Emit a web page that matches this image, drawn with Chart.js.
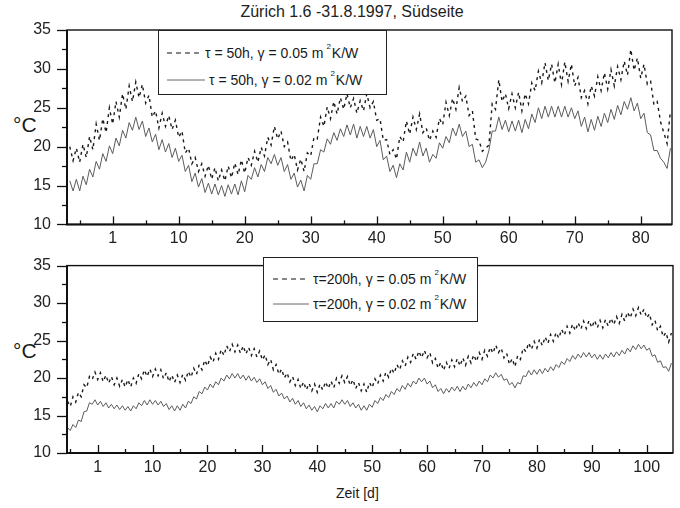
<!DOCTYPE html>
<html>
<head>
<meta charset="utf-8">
<script src="https://cdn.jsdelivr.net/npm/chart.js@4.4.1/dist/chart.umd.min.js"></script>
<style>
body{margin:0;background:#fff;width:680px;height:508px;position:relative;overflow:hidden;font-family:"Liberation Sans",Arial,sans-serif;color:#1a1a1a}
canvas{position:absolute;left:0}
.txt{position:absolute;white-space:nowrap}
.leg{position:absolute;border:1.3px solid #222;background:#fff;box-sizing:border-box;font-size:14px}
.row{position:absolute;display:flex;align-items:center;height:18px;white-space:nowrap}
.row svg{margin-right:4px}
.row sup{font-size:8px;vertical-align:0;position:relative;top:-9px;margin:0 1px 0 3px}
.degc{font-size:21px}
</style>
</head>
<body>
<div class="txt" style="left:0;width:704px;text-align:center;top:3px;font-size:16px;color:#222">Zürich 1.6 -31.8.1997, Südseite</div>
<div class="txt degc" style="left:13px;top:113px">°C</div>
<div class="txt degc" style="left:13px;top:339px">°C</div>
<div class="txt" style="left:336px;top:485px;font-size:14px">Zeit [d]</div>

<canvas id="topChart" width="680" height="250" style="top:0"></canvas>
<canvas id="botChart" width="680" height="268" style="top:240px"></canvas>

<div class="leg" style="left:158px;top:30px;width:229px;height:65px">
  <div class="row" style="left:8px;top:13px"><svg width="34" height="4"><line x1="0" y1="2" x2="34" y2="2" stroke="#111" stroke-width="1" stroke-dasharray="5,4"/></svg><span>τ = 50h, γ = 0.05 m<sup>2</sup>K/W</span></div>
  <div class="row" style="left:8px;top:40px"><svg width="38" height="4"><line x1="0" y1="2" x2="38" y2="2" stroke="#666" stroke-width="1"/></svg><span>τ = 50h, γ = 0.02 m<sup>2</sup>K/W</span></div>
</div>
<div class="leg" style="left:263px;top:257px;width:215px;height:65px">
  <div class="row" style="left:9px;top:12px"><svg width="36" height="4"><line x1="0" y1="2" x2="36" y2="2" stroke="#111" stroke-width="1" stroke-dasharray="5,4"/></svg><span>τ=200h, γ = 0.05 m<sup>2</sup>K/W</span></div>
  <div class="row" style="left:9px;top:37px"><svg width="36" height="4"><line x1="0" y1="2" x2="36" y2="2" stroke="#666" stroke-width="1"/></svg><span>τ=200h, γ = 0.02 m<sup>2</sup>K/W</span></div>
</div>

<script>
/* ===== DATEN: halbtägige Werte (Spitze/Tal) ===== */
const STEP=0.5;
const topStart=-6.5;   // obere Grafik, Tag
const botStart=-5.5;   // untere Grafik, Tag

// tau = 50h, gamma = 0.05 m2K/W
const top50g05=[
  20.0,18.2,19.8,18.0,20.3,18.6,21.3,19.6,22.9,20.8,23.6,21.8,25.0,22.9,25.8,23.8,26.8,24.8,27.8,25.8,
  28.3,26.3,28.0,25.6,26.6,23.8,24.6,22.4,24.3,22.6,24.0,22.2,23.4,21.2,22.0,19.2,19.8,17.8,18.6,16.8,
  17.8,16.2,17.6,15.8,17.3,15.6,17.0,15.6,17.5,16.0,17.9,16.4,18.3,16.6,18.6,17.6,19.4,18.0,19.9,18.8,
  21.2,20.2,22.6,21.0,22.0,20.0,20.6,18.2,19.0,17.0,18.4,16.8,19.2,18.8,21.2,21.0,23.8,22.6,25.1,23.6,
  25.8,24.2,26.3,24.8,26.8,25.0,26.2,24.3,25.9,24.6,26.8,25.0,25.8,23.4,23.6,20.8,20.9,19.0,19.6,18.4,
  21.3,20.6,23.3,21.6,23.8,22.2,24.2,21.8,22.4,20.8,22.0,21.2,23.6,22.8,25.7,24.0,26.2,24.8,27.6,25.8,
  26.5,24.0,24.6,21.0,20.8,19.4,19.8,20.2,25.5,24.8,28.6,25.8,26.8,24.9,26.8,25.0,27.0,24.6,26.8,25.5,
  28.2,27.2,29.7,28.2,30.8,28.5,30.6,28.2,30.6,28.0,30.9,28.4,30.6,27.8,28.9,26.3,27.2,25.5,27.8,26.5,
  29.0,27.2,29.5,27.4,29.9,27.8,30.3,28.6,31.0,29.2,32.5,29.8,31.4,28.8,30.6,28.0,28.4,25.4,25.8,23.2,
  21.8,20.4,24.6
];
// tau = 50h, gamma = 0.02 m2K/W
const top50g02=[
  15.6,14.3,15.8,14.3,16.2,15.1,17.1,16.1,18.1,17.1,19.1,18.1,20.1,19.1,21.1,20.1,22.1,21.1,23.1,22.1,
  23.8,22.2,23.3,21.3,22.4,20.6,21.6,19.6,20.9,19.3,20.4,18.6,19.8,18.1,18.9,16.8,17.6,15.5,16.6,14.8,
  15.9,14.1,15.3,13.9,15.2,13.8,15.0,13.6,15.1,13.9,15.2,13.8,15.6,14.2,16.3,15.8,17.3,16.1,17.7,16.8,
  18.6,17.8,19.0,17.6,18.6,16.8,17.7,15.8,16.6,14.8,15.7,14.3,16.3,15.8,17.8,17.8,19.6,19.3,21.0,20.3,
  21.8,20.8,22.3,21.3,22.8,21.5,22.9,21.1,22.6,21.3,22.6,21.1,22.2,20.0,20.8,18.3,18.8,16.8,17.6,16.0,
  17.8,17.0,19.3,18.0,19.8,18.8,20.6,18.8,19.8,18.0,19.0,18.5,20.5,19.8,21.3,20.5,22.4,21.4,22.9,21.3,
  22.0,20.0,20.3,18.0,18.3,17.3,18.0,19.5,22.0,22.0,23.8,22.2,23.4,21.9,23.3,22.0,23.4,21.8,23.5,22.3,
  24.2,23.1,25.0,23.6,25.2,23.8,25.2,23.8,25.2,23.8,25.2,23.8,25.0,23.6,24.6,22.6,23.8,21.9,23.5,22.1,
  23.9,22.6,24.3,23.1,24.8,23.5,25.3,24.1,25.8,24.8,26.3,24.6,25.6,23.6,24.3,21.8,21.5,19.5,19.5,18.5,
  18.0,17.2,19.8
];
// tau = 200h, gamma = 0.05 m2K/W
const bot200g05=[
  16.9,16.2,17.5,16.8,18.1,17.5,19.1,18.7,20.2,19.8,20.8,19.8,20.7,19.5,20.4,19.3,20.2,19.1,20.0,18.9,
  19.8,18.8,19.8,18.8,20.0,19.3,20.6,19.9,21.1,20.2,21.2,20.2,21.2,20.3,21.1,19.9,20.7,19.5,20.4,19.4,
  20.4,19.4,20.5,19.7,20.9,20.1,21.3,20.5,21.8,21.1,22.4,21.6,22.8,22.1,23.3,22.5,23.8,23.0,24.3,23.5,
  24.5,23.5,24.4,23.3,24.3,23.2,24.1,23.0,23.9,22.8,23.6,22.4,23.1,21.8,22.5,21.1,21.8,20.5,21.2,20.0,
  20.7,19.5,20.2,19.0,19.8,18.6,19.5,18.4,19.3,18.3,19.2,18.1,19.2,18.4,19.5,18.6,19.6,18.7,20.0,19.3,
  20.3,19.4,20.2,19.0,19.8,18.6,19.4,18.3,19.2,18.1,19.4,18.7,19.9,19.2,20.4,19.6,20.8,20.1,21.3,20.6,
  21.8,21.1,22.3,21.6,22.8,22.1,23.3,22.5,23.6,22.7,23.7,22.7,23.4,22.0,22.6,21.3,22.1,21.0,22.1,21.3,
  22.4,21.5,22.6,21.6,22.7,21.7,22.9,22.0,23.1,22.2,23.4,22.5,23.7,22.9,24.1,23.3,24.4,23.4,24.0,22.7,
  23.3,21.8,22.6,21.5,23.0,22.5,24.0,23.5,24.7,23.8,24.9,24.0,25.2,24.3,25.5,24.6,25.8,24.9,26.1,25.3,
  26.5,25.7,26.9,26.0,27.2,26.3,27.4,26.5,27.6,26.6,27.7,26.7,27.7,26.7,27.7,26.7,27.8,26.9,28.0,27.1,
  28.2,27.3,28.5,27.6,28.8,28.0,29.2,28.3,29.4,28.4,29.2,28.0,28.6,27.1,27.7,26.3,26.9,25.5,26.1,24.8,
  26.0
];
// tau = 200h, gamma = 0.02 m2K/W
const bot200g02=[
  13.4,13.0,13.8,13.4,14.4,14.2,15.5,15.6,16.7,16.5,17.1,16.4,16.9,16.2,16.7,16.0,16.5,15.9,16.4,15.8,
  16.3,15.7,16.2,15.6,16.3,15.9,16.7,16.3,17.0,16.4,17.1,16.5,17.0,16.4,16.9,16.2,16.6,15.8,16.3,15.6,
  16.3,15.7,16.5,16.0,16.9,16.6,17.5,17.2,18.2,17.9,18.8,18.4,19.2,18.7,19.5,19.1,20.0,19.6,20.4,19.9,
  20.6,20.0,20.6,19.9,20.4,19.7,20.3,19.6,20.1,19.4,19.9,19.1,19.5,18.6,19.0,18.1,18.5,17.6,18.0,17.2,
  17.6,16.8,17.3,16.5,17.0,16.2,16.7,15.9,16.4,15.7,16.2,15.5,16.3,15.9,16.6,16.0,16.6,16.0,16.9,16.5,
  17.1,16.5,17.0,16.2,16.7,16.0,16.5,15.7,16.3,15.7,16.5,16.1,17.0,16.6,17.4,17.0,17.8,17.4,18.2,17.8,
  18.6,18.2,19.0,18.5,19.3,18.8,19.6,19.2,20.0,19.5,20.0,19.2,19.6,18.7,19.1,18.2,18.6,17.9,18.6,18.1,
  18.8,18.3,18.9,18.2,18.9,18.4,19.2,18.7,19.4,18.9,19.6,19.1,19.9,19.5,20.4,20.0,20.7,20.1,20.5,19.7,
  19.9,19.1,19.4,18.7,19.4,19.2,20.3,20.2,21.0,20.4,21.1,20.5,21.2,20.6,21.3,20.8,21.5,21.0,21.8,21.4,
  22.2,21.8,22.6,22.2,23.0,22.5,23.2,22.7,23.4,22.8,23.4,22.7,23.2,22.5,23.1,22.5,23.2,22.7,23.4,22.8,
  23.5,23.0,23.7,23.2,24.0,23.5,24.3,23.8,24.5,23.9,24.4,23.7,24.0,22.9,23.1,22.1,22.3,21.4,21.5,20.9,
  22.0
];

// Achsen
const topXTicks=[0,10,20,30,40,50,60,70,80];
const botXTicks=[0,10,20,30,40,50,60,70,80,90,100];
const yTicks=[10,15,20,25,30,35];
const xTickLabel=v=>v===0?'1':String(v);

const FONT='"Liberation Sans", Arial, sans-serif';

function toXY(arr,start){return arr.map((y,i)=>({x:start+i*STEP,y}));}

// Rahmen + Haupt-/Nebenstriche
const framePlugin={
  id:'frame',
  afterDraw(chart){
    const {ctx,chartArea:a,scales:{x,y}}=chart;
    ctx.save();
    ctx.strokeStyle='#111';
    ctx.lineWidth=1.4;
    ctx.strokeRect(a.left,a.top,a.right-a.left,a.bottom-a.top);
    ctx.lineWidth=2;
    ctx.beginPath();ctx.moveTo(a.left,a.top);ctx.lineTo(a.left,a.bottom);ctx.lineTo(a.right,a.bottom);ctx.stroke();
    ctx.lineWidth=1.3;
    for(let v=y.min;v<=y.max+0.01;v+=2.5){
      const py=Math.round(y.getPixelForValue(v))+0.5;
      const len=v%5===0?10:5;
      ctx.beginPath();ctx.moveTo(a.left-len,py);ctx.lineTo(a.left,py);ctx.stroke();
    }
    for(let v=-5;v<=x.max;v+=5){
      if(v<x.min)continue;
      const px=Math.round(x.getPixelForValue(v))+0.5;
      const len=v%10===0?8:4;
      ctx.beginPath();ctx.moveTo(px,a.bottom);ctx.lineTo(px,a.bottom-len);ctx.stroke();
    }
    ctx.restore();
  }
};

function makeChart(id,c){
  return new Chart(document.getElementById(id),{
    type:'line',
    data:{datasets:[
      {data:toXY(c.dashed,c.start),borderColor:'#1a1a1a',borderWidth:1.4,borderDash:[3,4],pointRadius:0,tension:0},
      {data:toXY(c.solid,c.start),borderColor:'#5c5c5c',borderWidth:1,pointRadius:0,tension:0}
    ]},
    options:{
      responsive:false,animation:false,devicePixelRatio:1,
      layout:{padding:c.pad},
      plugins:{legend:{display:false},tooltip:{enabled:false}},
      scales:{
        x:{type:'linear',min:c.xmin,max:c.xmax,
          afterBuildTicks:s=>{s.ticks=c.xticks.map(v=>({value:v}));},
          afterFit:s=>{s.height=c.xh;},
          grid:{display:false,drawTicks:false},border:{display:false},
          ticks:{callback:xTickLabel,color:'#222',font:{family:FONT,size:16},padding:c.xpad,maxRotation:0,autoSkip:false}},
        y:{min:10,max:35,
          afterBuildTicks:s=>{s.ticks=yTicks.map(v=>({value:v}));},
          afterFit:s=>{s.width=67;},
          grid:{display:false,drawTicks:false},border:{display:false},
          ticks:{color:'#222',font:{family:FONT,size:16},padding:16}}
      }
    },
    plugins:[framePlugin]
  });
}

makeChart('topChart',{dashed:top50g05,solid:top50g02,start:topStart,xticks:topXTicks,
  xmin:-6.92,xmax:84.74,pad:{top:30,right:8,left:0,bottom:0},xh:23,xpad:5});
makeChart('botChart',{dashed:bot200g05,solid:bot200g02,start:botStart,xticks:botXTicks,
  xmin:-5.59,xmax:104.79,pad:{top:15,right:7,left:0,bottom:0},xh:55,xpad:5});
</script>
</body>
</html>
